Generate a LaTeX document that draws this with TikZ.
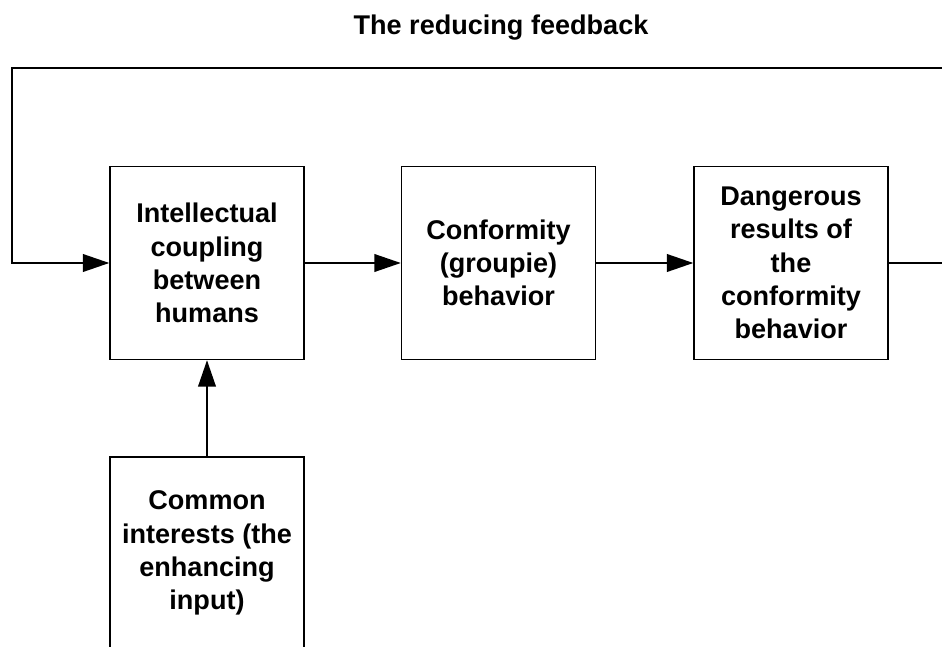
\documentclass[tikz,border=0pt]{standalone}
\usepackage{fontspec}
\setmainfont{Liberation Sans}
\usetikzlibrary{arrows.meta,positioning}

\begin{document}
\begin{tikzpicture}[x=1cm,y=1cm,
  blockbox/.style={draw,line width=0.8pt,minimum width=3.88cm,minimum height=3.86cm,inner sep=2pt,align=center,font=\fontsize{15.4}{18.9}\selectfont\bfseries},
  flow/.style={line width=1.1pt,-{Triangle[length=15pt,width=10pt]}},
  plain/.style={line width=1.1pt}]
\path[use as bounding box] (0,0) rectangle (18.84,12.92);
\clip (0,0) rectangle (18.84,12.92);
\node[anchor=base,font=\fontsize{15.4}{18.9}\selectfont\bfseries] (title) at (10.02,12.22) {The reducing feedback};

% chain of blocks
\node[blockbox] (coupling) at (4.14,7.66) {Intellectual\\coupling\\between\\humans};
\node[blockbox] (groupie) at (9.97,7.66) {Conformity\\(groupie)\\behavior};
\node[blockbox] (danger) at (15.82,7.66) {Dangerous\\results of\\the\\conformity\\behavior};
\node[blockbox,minimum height=3.84cm] (interests) at (4.14,1.86) {Common\\interests (the\\enhancing\\input)};

% loose ends of the feedback loop
\coordinate (outR) at (18.9,7.66);
\coordinate (fbR) at (18.9,11.56);
\coordinate (fbL) at (0.24,11.56);

\draw[flow] (coupling) -- (groupie);
\draw[flow] (groupie) -- (danger);
\draw[plain] (danger.east) -- (outR);
\draw[flow] (fbR) -- (fbL) |- (coupling.west);
\draw[flow] (interests) -- (coupling);
\end{tikzpicture}
\end{document}
